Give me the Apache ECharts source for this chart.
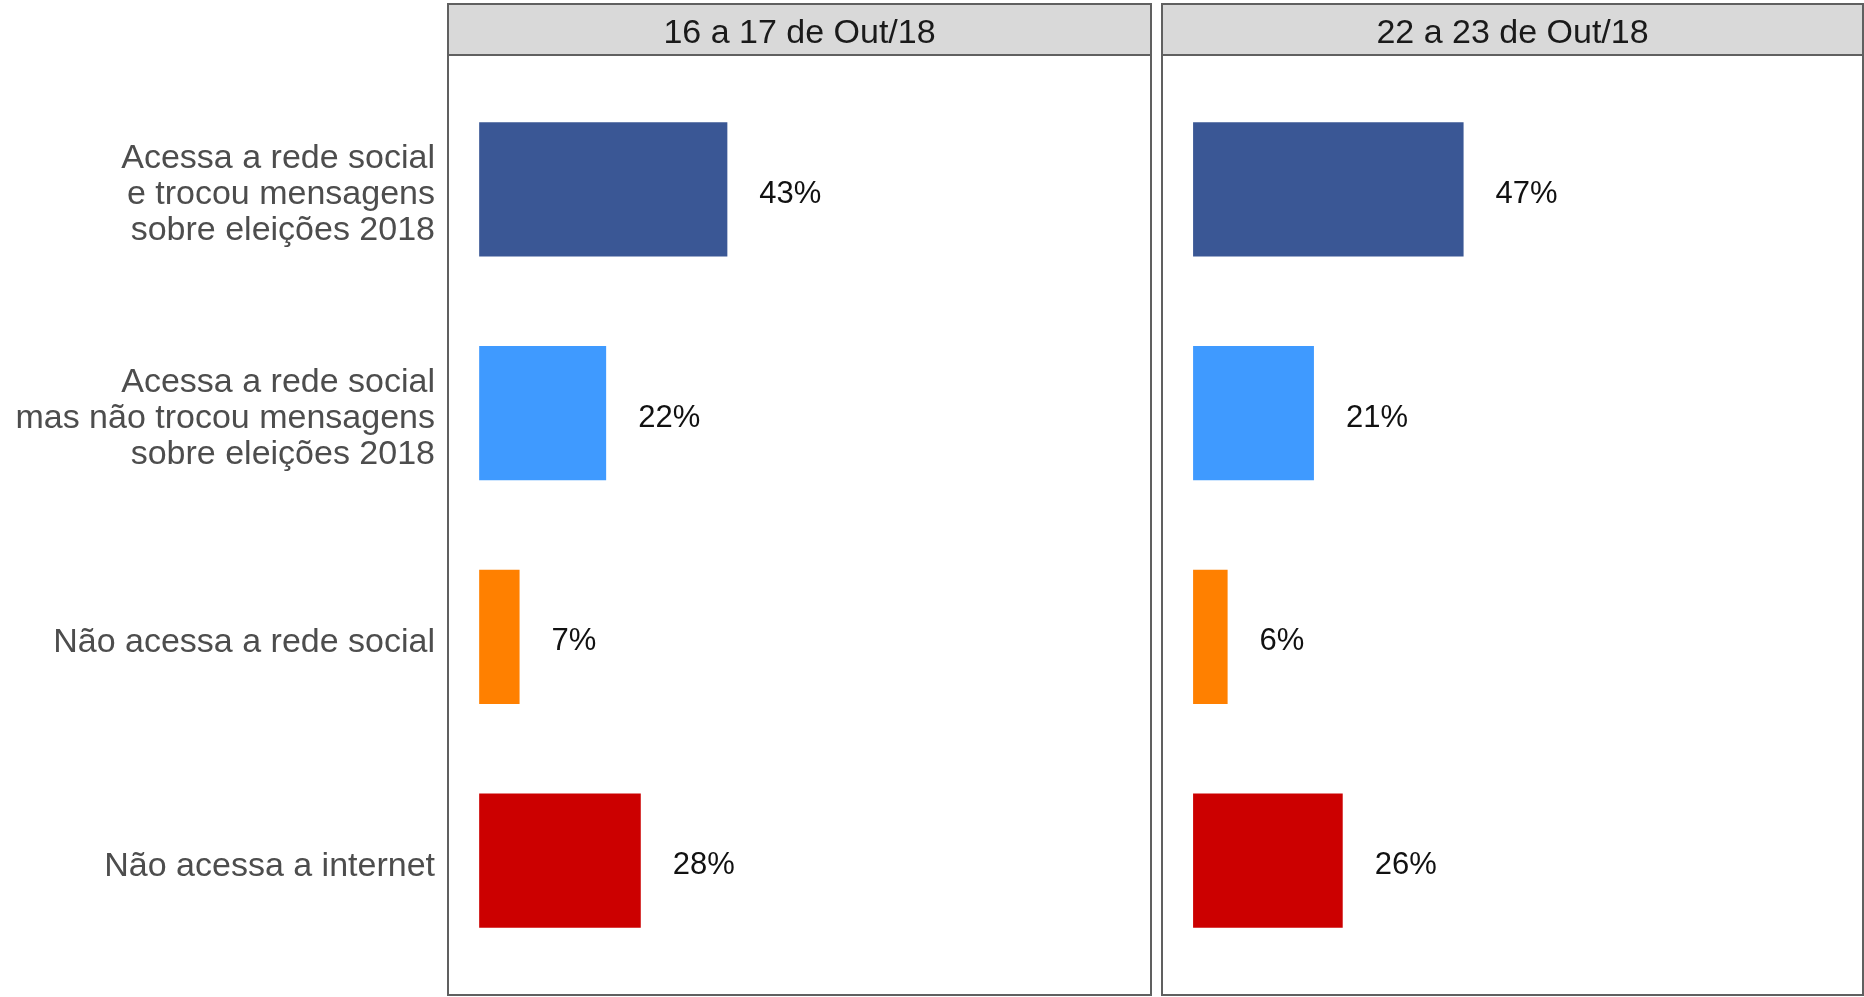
<!DOCTYPE html>
<html>
<head>
<meta charset="utf-8">
<script src="https://cdn.jsdelivr.net/npm/echarts@6/dist/echarts.min.js"></script>
<style>
  html, body { margin: 0; padding: 0; background: #fff; }
  #chart { width: 1864px; height: 997px; }
</style>
</head>
<body>
<div id="chart"></div>
<script>
// categorias (de cima para baixo)
const categories = [
  "Acessa a rede social\ne trocou mensagens\nsobre eleições 2018",
  "Acessa a rede social\nmas não trocou mensagens\nsobre eleições 2018",
  "Não acessa a rede social",
  "Não acessa a internet"
];
const periods = ["16 a 17 de Out/18", "22 a 23 de Out/18"];
const valuesOct16 = [43, 22, 7, 28];
const valuesOct22 = [47, 21, 6, 26];
const barColors = ["#3A5795", "#3F9AFF", "#FF8000", "#CC0000"];

// painéis (facetas)
const panels = [
  { left: 448, width: 703 },
  { left: 1162, width: 701 }
];
const panelTop = 55, panelBottom = 995, stripTop = 4;
const frameColor = "#606060";

const chart = echarts.init(document.getElementById("chart"));

const grids = [], xAxes = [], yAxes = [], series = [], graphics = [];
const seriesValues = [valuesOct16, valuesOct22];

// small spacer line on top so the text block sits a little lower (like ggplot)
function wrapLabel(v) {
  return "{s| }\n" + v.split("\n").map(l => "{t|" + l + "}").join("\n");
}

panels.forEach((p, i) => {
  // discrete axis expansion like ggplot: 0.6 units on each side, 4 categories
  const unit = (panelBottom - panelTop) / (categories.length + 0.2);
  grids.push({
    left: p.left,
    width: p.width,
    top: panelTop + unit * 0.1,
    height: unit * categories.length
  });
  xAxes.push({
    type: "value", gridIndex: i, min: -5.4, max: 116.4,
    show: false
  });
  yAxes.push({
    type: "category", gridIndex: i, data: categories, inverse: true,
    axisLine: { show: false }, axisTick: { show: false },
    splitLine: { show: false },
    axisLabel: {
      show: i === 0, margin: 13, align: "right",
      formatter: wrapLabel,
      rich: {
        s: { fontSize: 1, lineHeight: 11 },
        t: { color: "#4D4D4D", fontFamily: "Liberation Sans", fontSize: 34, lineHeight: 36, align: "right" }
      }
    }
  });
  series.push({
    type: "bar", xAxisIndex: i, yAxisIndex: i,
    barWidth: "60%",
    data: seriesValues[i].map((v, k) => ({ value: v, itemStyle: { color: barColors[k] } })),
    label: {
      show: true, position: "right", distance: 32, offset: [0, 5],
      formatter: "{c}%", color: "#111",
      fontFamily: "Liberation Sans", fontSize: 31
    },
    silent: true
  });
  // strip header
  graphics.push({
    type: "rect",
    shape: { x: p.left, y: stripTop, width: p.width, height: panelTop - stripTop },
    style: { fill: "#D9D9D9", stroke: frameColor, lineWidth: 2 },
    z: 1
  });
  graphics.push({
    type: "text",
    x: p.left + p.width / 2, y: (stripTop + panelTop) / 2 + 4,
    style: {
      text: periods[i], fill: "#1A1A1A", font: "34px 'Liberation Sans'",
      align: "center", verticalAlign: "middle"
    },
    z: 2
  });
  // panel frame
  graphics.push({
    type: "rect",
    shape: { x: p.left, y: panelTop, width: p.width, height: panelBottom - panelTop },
    style: { fill: "none", stroke: frameColor, lineWidth: 2 },
    z: 1
  });
});

chart.setOption({
  animation: false,
  backgroundColor: "#fff",
  grid: grids,
  xAxis: xAxes,
  yAxis: yAxes,
  series: series,
  graphic: graphics
});
</script>
</body>
</html>
